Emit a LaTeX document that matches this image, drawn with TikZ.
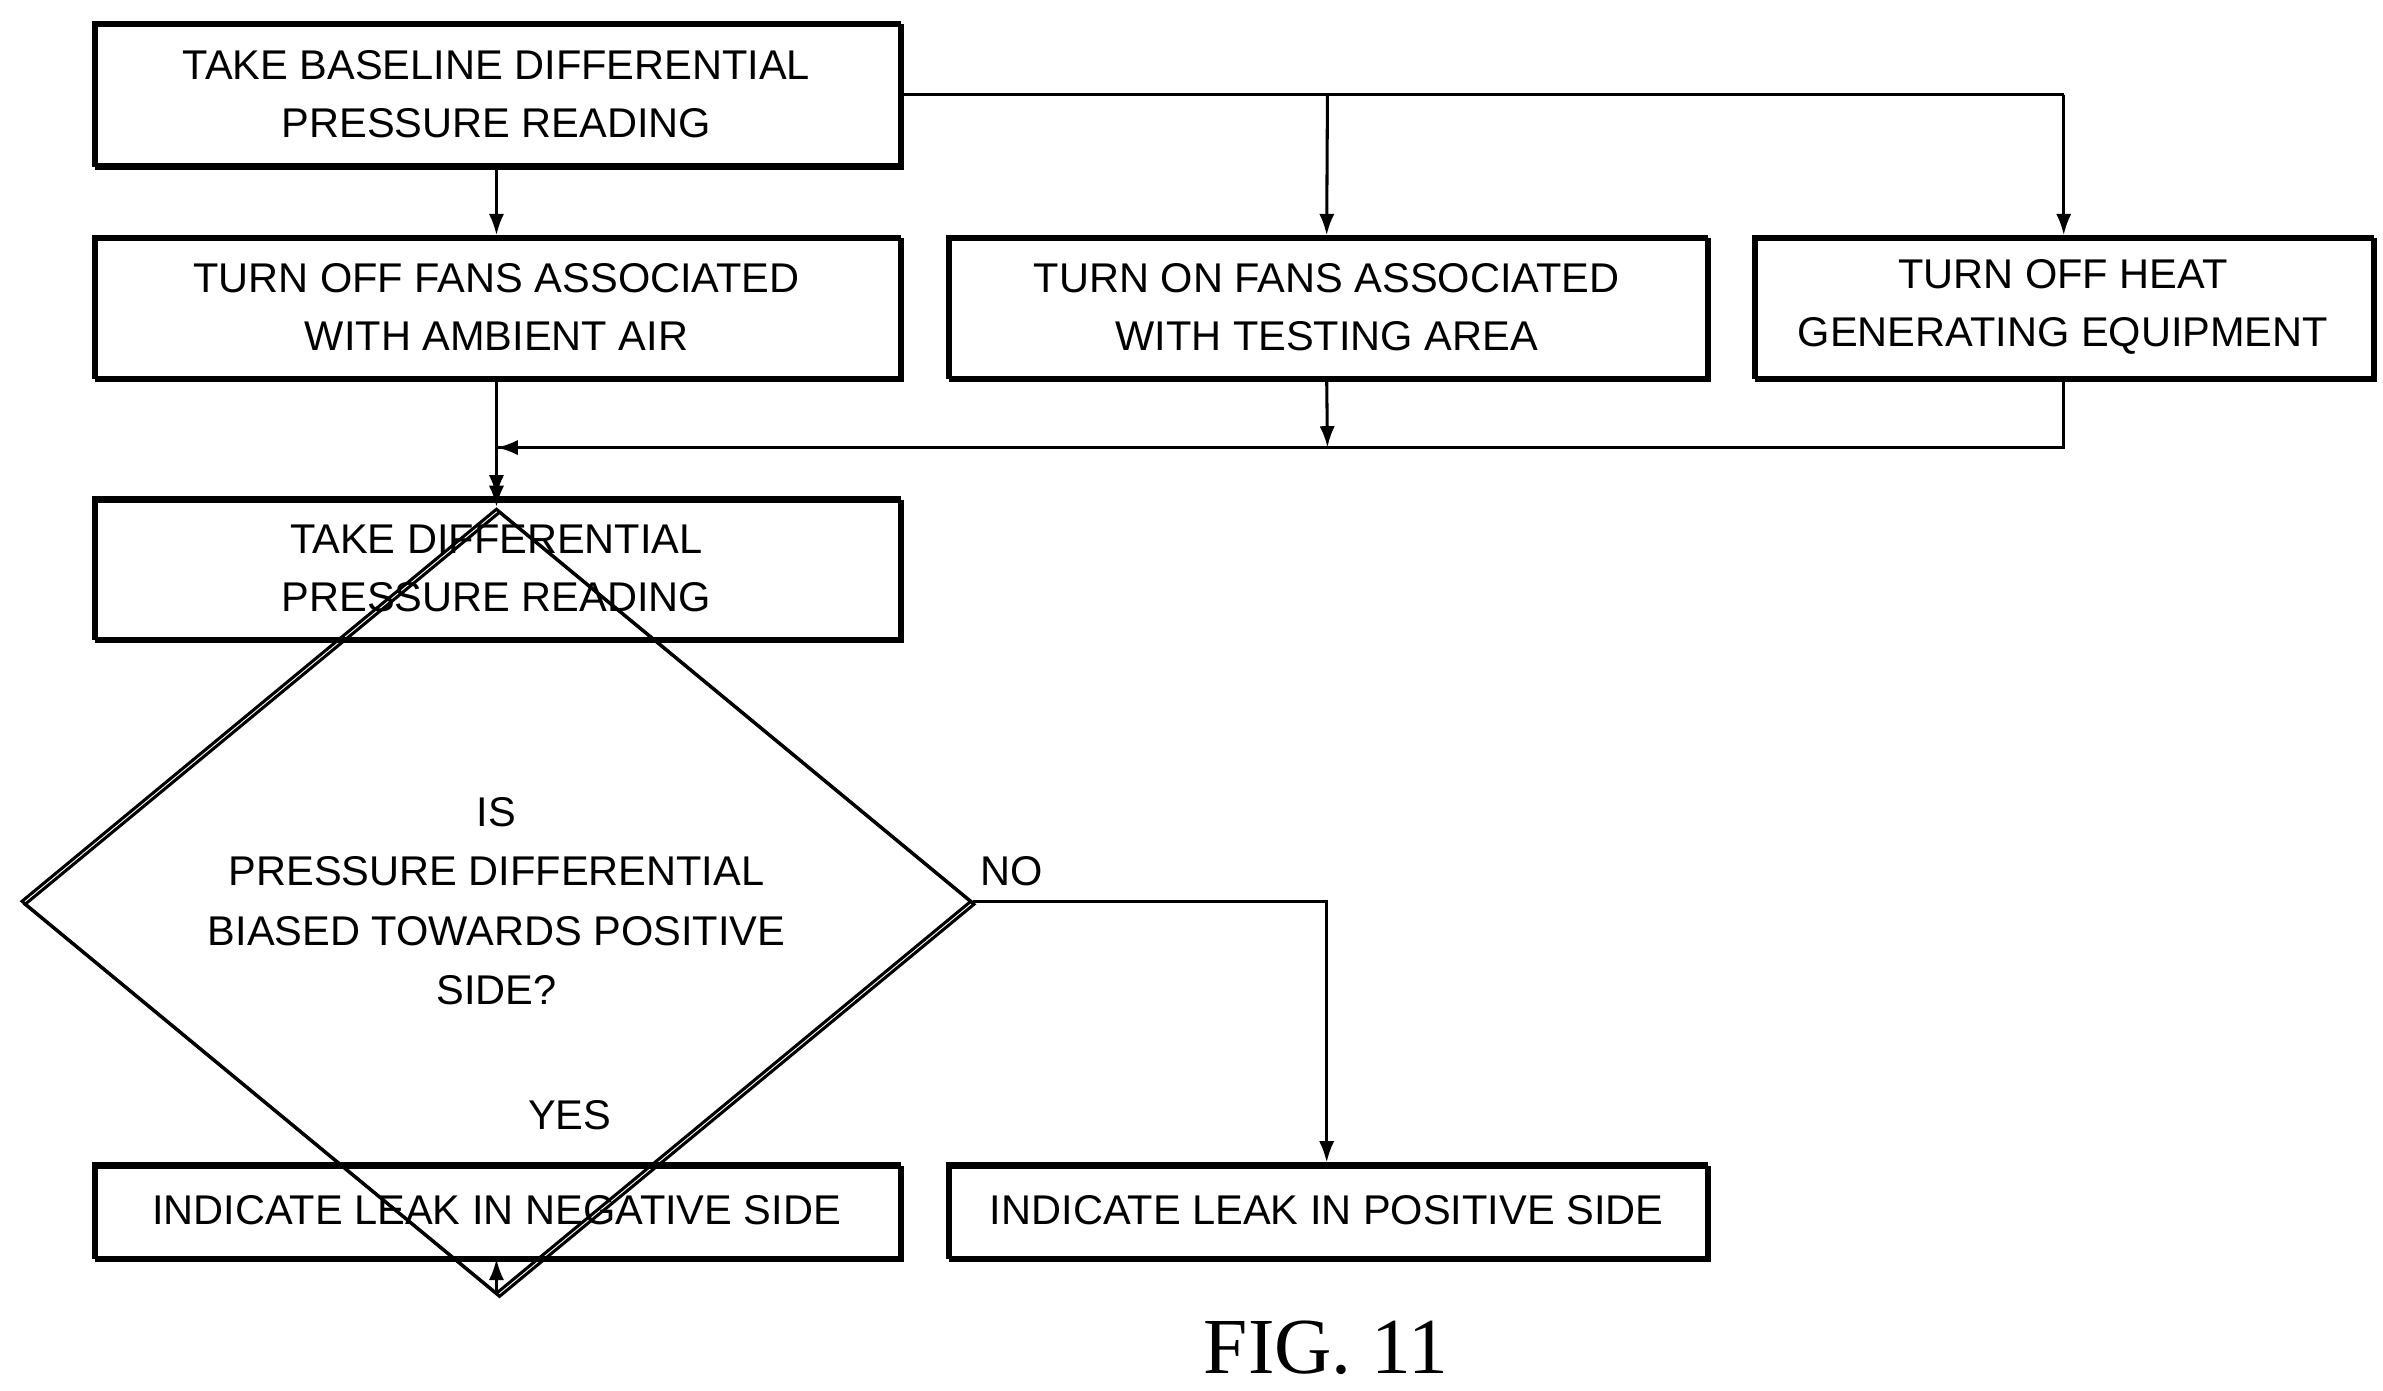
\documentclass[tikz,border=0pt]{standalone}
\usepackage{fontspec}
\setmainfont{Liberation Sans}
\newfontfamily\figfont{Liberation Serif}
\usetikzlibrary{shapes.geometric,arrows.meta}
\begin{document}
\begin{tikzpicture}[x=0.5pt,y=-0.5pt,line width=1pt,
  box/.style={draw,rectangle,inner sep=0pt,align=center,font=\fontsize{13.6}{19}\selectfont,
    preaction={draw,line width=1pt,transform canvas={shift={(1pt,-1pt)}}}},
  arr/.style={-{Latex[length=7pt,width=5pt]}},
  lbl/.style={font=\fontsize{13.6}{19}\selectfont}]
\useasboundingbox (0,0) rectangle (1560,910);
\node[box,minimum width=264pt,minimum height=46.5pt] (b1) at (325,61.5) {TAKE BASELINE DIFFERENTIAL\\PRESSURE READING};
\node[box,minimum width=264pt,minimum height=46pt] (b2) at (325,201) {TURN OFF FANS ASSOCIATED\\WITH AMBIENT AIR};
\node[box,minimum width=248.5pt,minimum height=46pt] (b3) at (868.5,201) {TURN ON FANS ASSOCIATED\\WITH TESTING AREA};
\node[box,minimum width=202.5pt,minimum height=46pt] (b4) at (1350.5,201) {TURN OFF HEAT\\GENERATING EQUIPMENT};
\node[box,minimum width=264pt,minimum height=46pt] (b5) at (325,372) {TAKE DIFFERENTIAL\\PRESSURE READING};
\node[draw,diamond,inner sep=0pt,minimum width=311pt,minimum height=125pt,align=center,
  font=\fontsize{13.6}{19.5}\selectfont,
  preaction={draw,line width=1pt,transform canvas={shift={(1pt,-1pt)}}}] (d) at (325,590)
  {IS\\PRESSURE DIFFERENTIAL\\BIASED TOWARDS POSITIVE\\SIDE?};
\node[box,minimum width=264pt,minimum height=30.5pt] (b6) at (325,792.5) {INDICATE LEAK IN NEGATIVE SIDE};
\node[box,minimum width=248.5pt,minimum height=30.5pt] (b7) at (868.5,792.5) {INDICATE LEAK IN POSITIVE SIDE};
\coordinate (j) at (869,293);
\coordinate (jl) at (325,293);
\draw[arr] (b1) -- (b2);
\draw (b1.east |- 0,62) -- (1351,62);
\draw[arr] (869,62) -- (b3.north);
\draw[arr] (1351,62) -- (b4.north -| 1351,0);
\draw[arr] (b2) -- (b5);
\draw[arr] (b3.south) -- (j);
\draw[arr] (b4.south -| 1351,0) |- (jl);
\draw (j) -- (jl);
\draw[arr] (b5) -- (d);
\draw[arr] (d.south) -- (b6);
\draw[arr] (d.east) -| (b7.north);
\node[lbl,anchor=west] (yes) at (338,730) {YES};
\node[lbl,anchor=west] (no) at (634,570) {NO};
\node[font=\figfont\fontsize{26}{30}\selectfont] (fig) at (868,882) {FIG. 11};
\end{tikzpicture}
\end{document}
